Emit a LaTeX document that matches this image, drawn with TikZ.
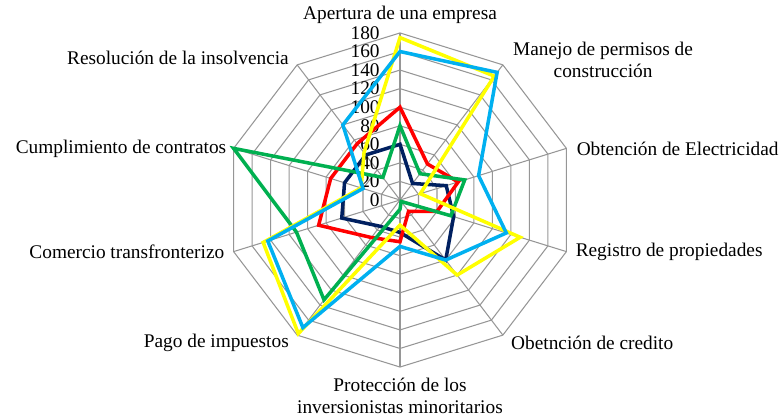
\documentclass[tikz,border=0pt]{standalone}
\usepackage{fontspec}
\setmainfont{Liberation Serif}
\definecolor{gridgray}{RGB}{150,150,150}
\definecolor{snavy}{RGB}{0,32,96}
\definecolor{sred}{RGB}{255,0,0}
\definecolor{sgreen}{RGB}{0,176,80}
\definecolor{syellow}{RGB}{255,255,0}
\definecolor{scyan}{RGB}{0,176,240}
\tikzset{%
  ring/.style={draw=gridgray,line width=0.6pt},
  serie/.style={line width=2pt,line join=miter},
  axlabel/.style={font=\fontsize{11}{12.5}\selectfont,inner sep=0pt,align=center},
  ticklabel/.style={font=\fontsize{11}{12.5}\selectfont,inner sep=0pt,anchor=east}
}

\begin{document}
\begin{tikzpicture}[x=0.02cm,y=0.02cm]
  \useasboundingbox (-400,-218) rectangle (380,200);
  \begin{scope}[xscale=0.972,yscale=0.928]
    % grid
    \coordinate (c) at (0,0);
    \foreach \i in {0,...,9}
      \coordinate (ax\i) at ({90-36*\i}:180);
    \foreach \r in {20,40,...,180}
      \draw[ring] (90:\r) \foreach \i in {1,...,9} { -- ({90-36*\i}:\r) } -- cycle;
    \foreach \i in {0,...,9}
      \draw[ring] (c) -- (ax\i);
    \foreach \v in {0,20,...,180}
      \node[ticklabel,xshift=-0.4cm] (t\v) at (0,\v) {\v};
    % series
    \foreach \v [count=\i from 0] in {60,22,50,58,80,35,35,63,60,60}
      \coordinate (nb\i) at ({90-36*\i}:\v);
    \foreach \v [count=\i from 0] in {100,48,63,40,15,45,50,88,75,75}
      \coordinate (rd\i) at ({90-36*\i}:\v);
    \foreach \v [count=\i from 0] in {80,35,70,55,2,10,133,112,180,30}
      \coordinate (gr\i) at ({90-36*\i}:\v);
    \foreach \v [count=\i from 0] in {175,165,22,130,100,27,178,148,42,63}
      \coordinate (ye\i) at ({90-36*\i}:\v);
    \foreach \v [count=\i from 0] in {160,170,85,115,80,50,170,143,40,100}
      \coordinate (cy\i) at ({90-36*\i}:\v);
    \draw[serie,snavy] (nb0) -- (nb1) -- (nb2) -- (nb3) -- (nb4) -- (nb5) -- (nb6) -- (nb7) -- (nb8) -- (nb9) -- cycle;
    \draw[serie,sred] (rd0) -- (rd1) -- (rd2) -- (rd3) -- (rd4) -- (rd5) -- (rd6) -- (rd7) -- (rd8) -- (rd9) -- cycle;
    \draw[serie,sgreen] (gr0) -- (gr1) -- (gr2) -- (gr3) -- (gr4) -- (gr5) -- (gr6) -- (gr7) -- (gr8) -- (gr9) -- cycle;
    \draw[serie,syellow] (ye0) -- (ye1) -- (ye2) -- (ye3) -- (ye4) -- (ye5) -- (ye6) -- (ye7) -- (ye8) -- (ye9) -- cycle;
    \draw[serie,scyan] (cy0) -- (cy1) -- (cy2) -- (cy3) -- (cy4) -- (cy5) -- (cy6) -- (cy7) -- (cy8) -- (cy9) -- cycle;
    % axis labels
    \node[axlabel,yshift=0.36cm] (lab0) at (ax0) {Apertura de una empresa};
    \node[axlabel,anchor=west,xshift=0.2cm,yshift=0.1cm] (lab1) at (ax1) {Manejo de permisos de\\construcción};
    \node[axlabel,anchor=west,xshift=0.2cm] (lab2) at (ax2) {Obtención de Electricidad};
    \node[axlabel,anchor=west,xshift=0.18cm] (lab3) at (ax3) {Registro de propiedades};
    \node[axlabel,anchor=west,xshift=0.16cm,yshift=-0.16cm] (lab4) at (ax4) {Obetnción de credito};
    \node[axlabel,yshift=-0.58cm] (lab5) at (ax5) {Protección de los\\inversionistas minoritarios};
    \node[axlabel,anchor=east,xshift=-0.16cm,yshift=-0.16cm] (lab6) at (ax6) {Pago de impuestos};
    \node[axlabel,anchor=east,xshift=-0.18cm] (lab7) at (ax7) {Comercio transfronterizo};
    \node[axlabel,anchor=east,xshift=-0.14cm] (lab8) at (ax8) {Cumplimiento de contratos};
    \node[axlabel,anchor=east,xshift=-0.16cm,yshift=0.14cm] (lab9) at (ax9) {Resolución de la insolvencia};
  \end{scope}
\end{tikzpicture}
\end{document}
